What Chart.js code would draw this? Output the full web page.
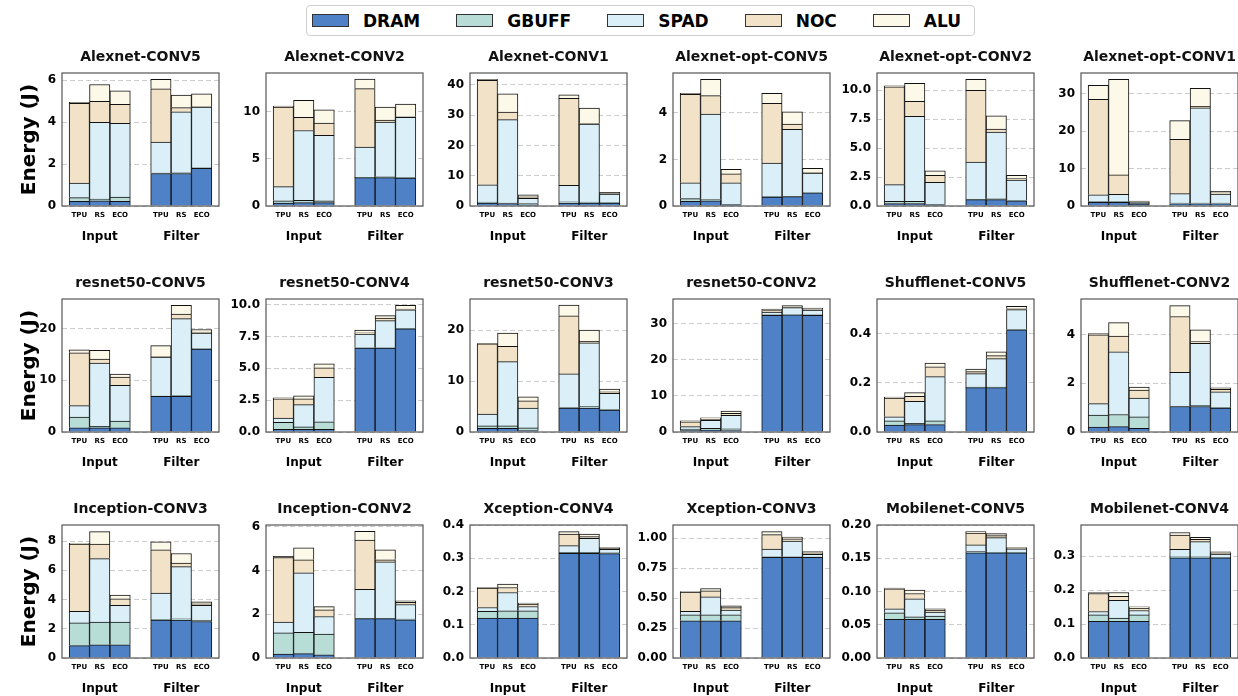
<!DOCTYPE html>
<html>
<head>
<meta charset="utf-8">
<script src="https://cdn.jsdelivr.net/npm/chart.js@4.4.1/dist/chart.umd.min.js"></script>
<style>
  html, body { margin: 0; padding: 0; background: #fff; overflow: hidden; }
  body { width: 1238px; height: 696px; position: relative; font-family: 'DejaVu Sans', sans-serif; }
  canvas { position: absolute; }
  #legend {
    position: absolute; left: 306px; top: 5px; width: 669px; height: 31px;
    box-sizing: border-box; border: 1px solid #cfcfcf; border-radius: 4px;
    display: flex; align-items: center; padding-left: 5px;
    font: bold 17px 'DejaVu Sans', sans-serif; color: #000;
  }
  #legend .patch { display: inline-block; width: 37px; height: 13px; box-sizing: border-box; border: 1px solid #333; margin-right: 14px; }
  #legend .name { margin-right: 36px; }
  #legend .name:last-child { margin-right: 0; }
</style>
</head>
<body>
<div id="legend"></div>
<script>
// ======================= DATA =======================

const panelTitles = [
  'Alexnet-CONV5', 'Alexnet-CONV2', 'Alexnet-CONV1', 'Alexnet-opt-CONV5', 'Alexnet-opt-CONV2', 'Alexnet-opt-CONV1',
  'resnet50-CONV5', 'resnet50-CONV4', 'resnet50-CONV3', 'resnet50-CONV2', 'Shufflenet-CONV5', 'Shufflenet-CONV2',
  'Inception-CONV3', 'Inception-CONV2', 'Xception-CONV4', 'Xception-CONV3', 'Mobilenet-CONV5', 'Mobilenet-CONV4'
];

const categories = ['TPU', 'RS', 'ECO'];
const groups = ['Input', 'Filter'];
const componentNames = ['DRAM', 'GBUFF', 'SPAD', 'NOC', 'ALU'];

const yTickLabels = [
  ['0', '2', '4', '6'], ['0', '5', '10'], ['0', '10', '20', '30', '40'],
  ['0', '2', '4'], ['0.0', '2.5', '5.0', '7.5', '10.0'], ['0', '10', '20', '30'],
  ['0', '10', '20'], ['0.0', '2.5', '5.0', '7.5', '10.0'], ['0', '10', '20'],
  ['0', '10', '20', '30'], ['0.0', '0.2', '0.4'], ['0', '2', '4'],
  ['0', '2', '4', '6', '8'], ['0', '2', '4', '6'], ['0.0', '0.1', '0.2', '0.3', '0.4'],
  ['0.00', '0.25', '0.50', '0.75', '1.00'], ['0.00', '0.05', '0.10', '0.15', '0.20'], ['0.0', '0.1', '0.2', '0.3']
];

const yMax = [6.35, 14.1, 43.9, 5.72, 11.5, 35.5, 25.7, 10.45, 26.1, 36.8, 0.54, 5.47, 9.1, 6.09, 0.4, 1.11, 0.2, 0.392];

// per panel: Input TPU, RS, ECO, Filter TPU, RS, ECO
const dramValues = [
  [0.22, 0.25, 0.22, 1.55, 1.55, 1.8],
  [0.3, 0.35, 0.35, 3.0, 3.0, 2.95],
  [1.0, 0.8, 0.4, 1.0, 1.0, 1.0],
  [0.2, 0.22, 0.05, 0.38, 0.4, 0.57],
  [0.2, 0.2, 0.1, 0.55, 0.55, 0.45],
  [1.0, 1.0, 0.5, 0.6, 0.6, 0.6],
  [0.8, 0.8, 0.8, 6.9, 6.9, 16.0],
  [0.2, 0.2, 0.2, 6.6, 6.6, 8.1],
  [0.7, 0.7, 0.3, 4.7, 4.7, 4.3],
  [0.4, 0.5, 0.4, 32.3, 32.4, 32.3],
  [0.028, 0.03, 0.03, 0.18, 0.18, 0.415],
  [0.2, 0.22, 0.15, 1.05, 1.05, 0.98],
  [0.85, 0.9, 0.9, 2.6, 2.6, 2.5],
  [0.18, 0.2, 0.15, 1.8, 1.8, 1.75],
  [0.12, 0.12, 0.12, 0.315, 0.315, 0.314],
  [0.31, 0.31, 0.31, 0.84, 0.84, 0.84],
  [0.058, 0.058, 0.058, 0.158, 0.158, 0.158],
  [0.108, 0.108, 0.108, 0.295, 0.295, 0.295]
];

const gbuffValues = [
  [0.18, 0.08, 0.2, 0.02, 0.03, 0.02],
  [0.25, 0.25, 0.2, 0.05, 0.1, 0.05],
  [0.3, 0.2, 0.4, 0.4, 0.3, 0.2],
  [0.12, 0.06, 0.02, 0.02, 0.02, 0.01],
  [0.2, 0.2, 0.05, 0.03, 0.07, 0.02],
  [0.2, 0.2, 0.2, 0.2, 0.2, 0.2],
  [2.1, 0.3, 1.3, 0.05, 0.15, 0.1],
  [0.55, 0.2, 0.6, 0.02, 0.02, 0.02],
  [0.5, 0.5, 0.5, 0.1, 0.3, 0.1],
  [0.4, 0.5, 0.5, 0.1, 0.1, 0.1],
  [0.017, 0.005, 0.015, 0.002, 0.002, 0.002],
  [0.5, 0.5, 0.47, 0.01, 0.05, 0.02],
  [1.55, 1.55, 1.55, 0.05, 0.08, 0.08],
  [0.97, 0.97, 0.95, 0.02, 0.02, 0.03],
  [0.02, 0.022, 0.022, 0.003, 0.003, 0.002],
  [0.05, 0.05, 0.05, 0.005, 0.005, 0.003],
  [0.01, 0.004, 0.005, 0.002, 0.001, 0.001],
  [0.019, 0.01, 0.019, 0.003, 0.003, 0.002]
];

const spadValues = [
  [0.7, 3.67, 3.53, 1.48, 2.92, 2.9],
  [1.5, 7.4, 6.95, 3.2, 5.8, 6.4],
  [5.7, 27.5, 1.7, 5.4, 25.7, 2.7],
  [0.68, 3.67, 0.93, 1.45, 2.88, 0.84],
  [1.45, 7.35, 1.9, 3.22, 5.78, 1.78],
  [1.8, 1.9, 0.3, 2.5, 25.4, 2.4],
  [2.2, 12.2, 6.9, 7.55, 14.85, 3.0],
  [0.35, 1.75, 3.5, 1.08, 2.13, 1.48],
  [2.3, 12.6, 3.9, 6.6, 12.5, 3.2],
  [0.7, 2.2, 3.7, 0.8, 1.9, 1.3],
  [0.017, 0.09, 0.18, 0.055, 0.116, 0.08],
  [0.47, 2.58, 0.78, 1.39, 2.55, 0.65],
  [0.8, 4.35, 1.15, 1.8, 3.57, 1.02],
  [0.5, 2.73, 0.8, 1.33, 2.58, 0.67],
  [0.012, 0.055, 0.013, 0.02, 0.042, 0.011],
  [0.03, 0.15, 0.04, 0.065, 0.13, 0.022],
  [0.006, 0.027, 0.006, 0.01, 0.022, 0.005],
  [0.01, 0.052, 0.013, 0.022, 0.045, 0.009]
];

const nocValues = [
  [3.8, 1.0, 0.9, 2.55, 0.2, 0.03],
  [8.45, 1.4, 1.3, 6.2, 0.2, 0.05],
  [34.5, 2.5, 0.5, 28.7, 0.2, 0.2],
  [3.8, 0.8, 0.38, 2.57, 0.22, 0.03],
  [8.45, 1.3, 0.6, 6.2, 0.25, 0.13],
  [25.5, 5.2, 0.2, 14.5, 0.4, 0.3],
  [10.2, 0.8, 1.6, 0.1, 0.9, 0.2],
  [1.5, 0.45, 0.75, 0.1, 0.2, 0.05],
  [13.8, 3.0, 1.4, 11.4, 0.3, 0.3],
  [1.3, 0.4, 0.6, 0.4, 0.2, 0.2],
  [0.076, 0.02, 0.04, 0.008, 0.012, 0.003],
  [2.83, 0.65, 0.32, 2.3, 0.07, 0.1],
  [4.6, 1.0, 0.45, 2.95, 0.25, 0.1],
  [2.95, 0.6, 0.3, 2.25, 0.1, 0.1],
  [0.058, 0.015, 0.007, 0.035, 0.005, 0.003],
  [0.16, 0.05, 0.02, 0.12, 0.02, 0.013],
  [0.03, 0.008, 0.003, 0.018, 0.003, 0.001],
  [0.053, 0.012, 0.007, 0.042, 0.007, 0.004]
];

const aluValues = [
  [0.05, 0.8, 0.65, 0.45, 0.6, 0.6],
  [0.1, 1.8, 1.4, 1.0, 1.4, 1.35],
  [0.3, 6.0, 0.7, 1.2, 5.1, 0.4],
  [0.05, 0.7, 0.2, 0.43, 0.53, 0.17],
  [0.08, 1.55, 0.4, 0.95, 1.15, 0.27],
  [3.7, 25.5, 0.1, 5.0, 4.8, 0.4],
  [0.6, 1.7, 0.6, 2.1, 1.7, 0.5],
  [0.08, 0.25, 0.3, 0.2, 0.2, 0.3],
  [0.1, 2.6, 0.8, 2.1, 2.2, 0.5],
  [0.3, 0.3, 0.6, 0.4, 0.4, 0.4],
  [0.004, 0.015, 0.015, 0.01, 0.015, 0.01],
  [0.05, 0.55, 0.13, 0.45, 0.48, 0.07],
  [0.05, 0.85, 0.25, 0.55, 0.65, 0.15],
  [0.05, 0.55, 0.15, 0.4, 0.45, 0.07],
  [0.002, 0.01, 0.003, 0.007, 0.008, 0.002],
  [0.005, 0.02, 0.015, 0.025, 0.015, 0.01],
  [0.001, 0.005, 0.002, 0.002, 0.003, 0.001],
  [0.003, 0.011, 0.004, 0.008, 0.006, 0.003]
];

const componentValues = [dramValues, gbuffValues, spadValues, nocValues, aluValues];

// ======================= STYLE / LAYOUT =======================

const componentColors = ['#4f81c6', '#b8ddd7', '#daeff8', '#f2e3c8', '#fdf9e9'];
const barEdge = '#111111';
const frameColor = '#555555';
const gridColor = '#cccccc';

const layout = {
  cols: 6,
  firstLeft: 62,
  pitchX: 203.8,
  firstTop: 73,
  pitchY: 226,
  frameW: 157,
  frameH: 133,
  titleH: 24,
  tickAxisH: 15,
  groupAxisH: 26,
  yAxisW: 44,
  firstYAxisW: 62,
  padRight: 1
};

Chart.defaults.font.family = "'DejaVu Sans', sans-serif";
Chart.defaults.color = '#000';

// bar slot on the x axis, one empty slot between groups
function barX(groupIndex, slot) {
  return groupIndex * (categories.length + 1) + slot;
}

const barPositions = [];
const barLabels = [];
groups.forEach((g, gi) => categories.forEach((c, ci) => {
  barPositions.push(barX(gi, ci));
  barLabels.push(c);
}));
const groupCenters = groups.map((g, gi) => barX(gi, (categories.length - 1) / 2));
const xPad = 0.85;
const xMin = barPositions[0] - xPad;
const xMax = barPositions[barPositions.length - 1] + xPad;

const framePlugin = {
  id: 'frame',
  afterDatasetsDraw(chart) {
    const { ctx, chartArea: a } = chart;
    ctx.save();
    ctx.strokeStyle = frameColor;
    ctx.lineWidth = 1.2;
    ctx.strokeRect(a.left, a.top, a.right - a.left, a.bottom - a.top);
    ctx.restore();
  }
};

function renderLegend() {
  const box = document.getElementById('legend');
  componentNames.forEach((name, k) => {
    const patch = document.createElement('span');
    patch.className = 'patch';
    patch.style.background = componentColors[k];
    const label = document.createElement('span');
    label.className = 'name';
    label.textContent = name;
    box.appendChild(patch);
    box.appendChild(label);
  });
}

function xAxis(positions, labels, height, fontSize, padding, weight) {
  return {
    type: 'linear',
    position: 'bottom',
    display: true,
    stacked: true,
    offset: false,
    min: xMin,
    max: xMax,
    weight: weight,
    afterDataLimits: (s) => { s.min = xMin; s.max = xMax; },
    afterBuildTicks: (s) => { s.ticks = positions.map(v => ({ value: v })); },
    afterFit: (s) => { s.height = height; },
    ticks: {
      callback: (v, idx) => labels[idx],
      autoSkip: false,
      maxRotation: 0,
      font: { size: fontSize, weight: 'bold' },
      padding: padding
    },
    grid: { display: false, drawTicks: false, offset: false },
    border: { display: false }
  };
}

function renderPanel(i) {
  const col = i % layout.cols;
  const row = Math.floor(i / layout.cols);
  const yW = col === 0 ? layout.firstYAxisW : layout.yAxisW;
  const frameLeft = Math.round(layout.firstLeft + col * layout.pitchX);
  const frameTop = layout.firstTop + row * layout.pitchY;

  const canvas = document.createElement('canvas');
  const w = yW + layout.frameW + layout.padRight;
  const h = layout.titleH + layout.frameH + layout.tickAxisH + layout.groupAxisH;
  canvas.width = w;
  canvas.height = h;
  canvas.style.width = w + 'px';
  canvas.style.height = h + 'px';
  canvas.style.left = (frameLeft - yW) + 'px';
  canvas.style.top = (frameTop - layout.titleH) + 'px';
  document.body.appendChild(canvas);

  const datasets = componentNames.map((name, k) => ({
    label: name,
    data: componentValues[k][i].map((v, j) => ({ x: barPositions[j], y: v })),
    backgroundColor: componentColors[k],
    borderColor: barEdge,
    borderWidth: 1,
    barPercentage: 1,
    categoryPercentage: 1,
    xAxisID: 'x',
    yAxisID: 'y'
  }));

  const ticksY = yTickLabels[i];

  return new Chart(canvas, {
    type: 'bar',
    data: { datasets },
    options: {
      responsive: false,
      animation: false,
      devicePixelRatio: 1,
      layout: { padding: { right: layout.padRight } },
      plugins: {
        legend: { display: false },
        tooltip: { enabled: false },
        title: {
          display: true,
          text: panelTitles[i],
          fullSize: false,
          color: '#111',
          font: { size: 14, weight: 'bold' },
          padding: { top: 0, bottom: 7.2 }
        }
      },
      scales: {
        x: xAxis(barPositions, barLabels, layout.tickAxisH, 7, 5, 0),
        x2: xAxis(groupCenters, groups, layout.groupAxisH, 12, 9, 1),
        y: {
          stacked: true,
          min: 0,
          max: yMax[i],
          afterBuildTicks: (s) => { s.ticks = ticksY.map(t => ({ value: Number(t) })); },
          afterFit: (s) => { s.width = yW; },
          ticks: {
            callback: (v, idx) => ticksY[idx],
            font: { size: 12, weight: 'bold' },
            padding: 6
          },
          grid: { color: gridColor, lineWidth: 1, drawTicks: false },
          border: { display: false, dash: [5, 3] },
          title: {
            display: col === 0,
            text: 'Energy (J)',
            font: { size: 20, weight: 'bold' },
            padding: { top: 18, bottom: 0 }
          }
        }
      }
    },
    plugins: [framePlugin]
  });
}

renderLegend();
panelTitles.forEach((t, i) => renderPanel(i));
</script>
</body>
</html>
